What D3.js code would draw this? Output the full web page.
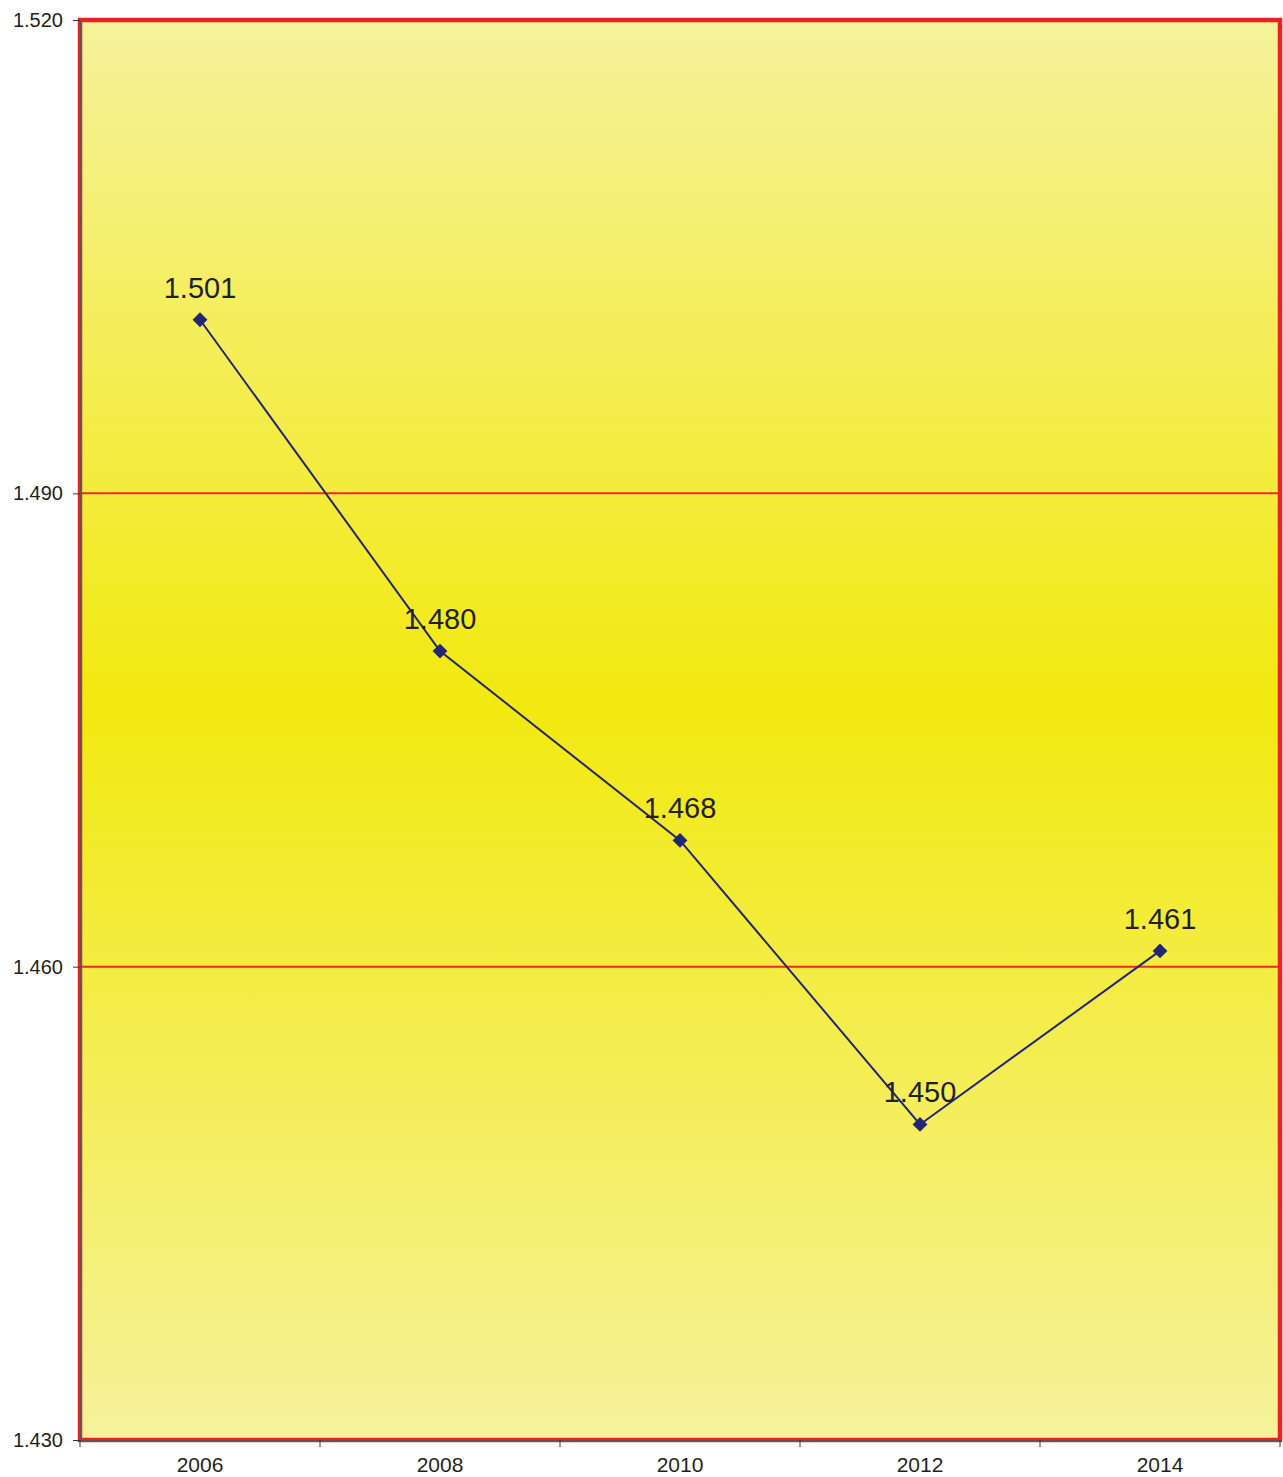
<!DOCTYPE html>
<html lang="en">
<head>
    <meta charset="UTF-8">
    <title>Line chart 2006-2014</title>
    <script src="https://d3js.org/d3.v7.min.js"></script>
    <style>
        body { margin: 0; background: #fff; }
        * { font-family: "Liberation Sans", Arial, sans-serif; }
    </style>
</head>
<body>
    <svg width="1283" height="1477"></svg>
    <script>
        // data
        const years = ["2006", "2008", "2010", "2012", "2014"];
        const values = [1.501, 1.480, 1.468, 1.450, 1.461];
        const yTicks = [1.430, 1.460, 1.490, 1.520];
        const gridValues = [1.460, 1.490];

        const svg = d3.select("svg"),
            margin = { top: 20, right: 3, bottom: 37, left: 80 },
            width = +svg.attr("width") - margin.left - margin.right,
            height = +svg.attr("height") - margin.top - margin.bottom,
            g = svg.append("g").attr("transform", `translate(${margin.left},${margin.top})`);

        const x = d3.scaleBand().domain(years).range([0, width]);
        const y = d3.scaleLinear().domain([1.430, 1.520]).range([height, 0]);

        // background gradient
        const grad = svg.append("defs").append("linearGradient")
            .attr("id", "bg").attr("x1", 0).attr("y1", 0).attr("x2", 0).attr("y2", 1);
        grad.append("stop").attr("offset", "0%").attr("stop-color", "#f6f29b");
        grad.append("stop").attr("offset", "48%").attr("stop-color", "#f2e90f");
        grad.append("stop").attr("offset", "100%").attr("stop-color", "#f6f29b");

        g.append("rect")
            .attr("width", width).attr("height", height)
            .attr("fill", "url(#bg)");

        // grid lines
        g.selectAll(".grid").data(gridValues).join("line")
            .attr("x1", 0).attr("x2", width)
            .attr("y1", d => y(d)).attr("y2", d => y(d))
            .attr("stroke", "#ee2a24").attr("stroke-width", 2);

        // border
        g.append("rect")
            .attr("width", width).attr("height", height)
            .attr("fill", "none")
            .attr("stroke", "#ee2024").attr("stroke-width", 4.5);

        // axes
        const yAxis = g.append("g")
            .call(d3.axisLeft(y).tickValues(yTicks).tickFormat(d3.format(".3f")).tickSize(7).tickPadding(10));
        yAxis.select(".domain").attr("stroke", "#555").attr("stroke-width", 1);
        yAxis.selectAll(".tick line").attr("stroke", "#333");
        yAxis.selectAll("text").attr("font-size", "20px").attr("fill", "#231f20");

        const xAxis = g.append("g").attr("transform", `translate(0,${height})`)
            .call(d3.axisBottom(x).tickSize(0).tickPadding(17));
        xAxis.select(".domain").attr("stroke", "#555").attr("stroke-width", 1);
        xAxis.selectAll("text").attr("font-size", "21px").attr("fill", "#231f20");

        // tick marks at the band edges
        const edges = years.map(d => x(d)).concat([width]);
        g.selectAll(".xedge").data(edges).join("line")
            .attr("x1", d => d).attr("x2", d => d)
            .attr("y1", height).attr("y2", height + 7)
            .attr("stroke", "#333");

        // line
        const cx = (d, i) => x(years[i]) + x.bandwidth() / 2;
        g.append("path")
            .datum(values)
            .attr("d", d3.line().x(cx).y(d => y(d)))
            .attr("fill", "none")
            .attr("stroke", "#232672")
            .attr("stroke-width", 2);

        // markers
        g.selectAll(".pt").data(values).join("path")
            .attr("d", d3.symbol(d3.symbolDiamond2, 140))
            .attr("transform", (d, i) => `translate(${cx(d, i)},${y(d)})`)
            .attr("fill", "#232672");

        // labels
        g.selectAll(".lbl").data(values).join("text")
            .attr("x", cx)
            .attr("y", d => y(d) - 22)
            .attr("text-anchor", "middle")
            .attr("font-size", "29px")
            .attr("fill", "#231f20")
            .text(d => d3.format(".3f")(d));
    </script>
</body>
</html>
